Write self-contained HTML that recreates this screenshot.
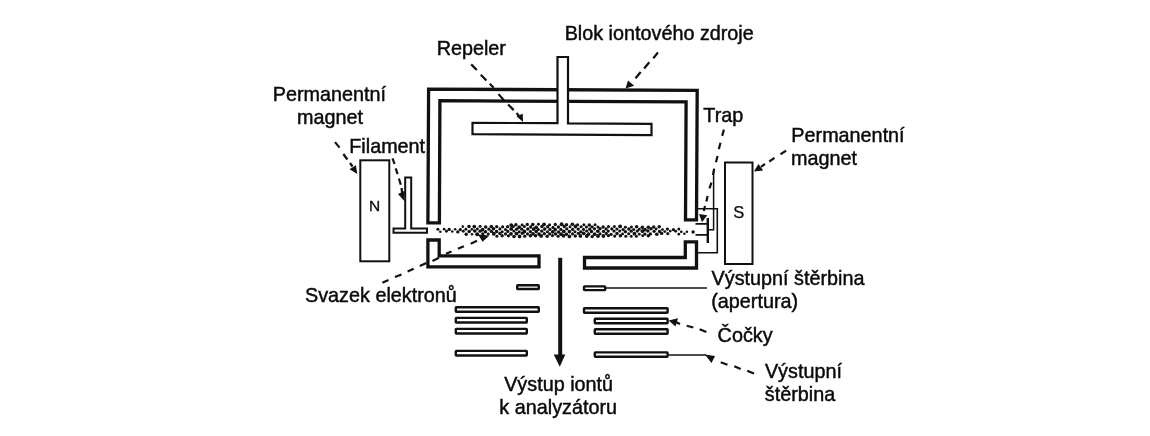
<!DOCTYPE html>
<html><head><meta charset="utf-8">
<style>
html,body{margin:0;padding:0;background:#fff;width:1150px;height:436px;overflow:hidden}
svg{position:absolute;left:0;top:0;will-change:transform}
text{font-family:"Liberation Sans",sans-serif;font-size:19.8px;fill:#0a0a0a;stroke:#0a0a0a;stroke-width:0.45px}
</style></head><body>
<svg width="1150" height="436" viewBox="0 0 1150 436">
<g fill="none" stroke="#111" stroke-linejoin="miter">
<!-- upper chamber -->
<path d="M427.9,222.8 L428.6,89.1 L697.2,90.4 L696.5,219.8 L685.5,219.8 L686.1,101.9 L439.9,100.7 L439.4,222.8 Z" stroke-width="3.3"/>
<!-- lower walls -->
<path d="M427.9,240 V266.9 H539 V255.9 H439.2 V240 Z" stroke-width="3.3"/>
<path d="M696.5,241.8 V268 H584.5 V257.5 H685.3 V241.8 Z" stroke-width="3.3"/>
<!-- repeler T -->
<path d="M472.5,122.8 L557.5,123.2 L557.5,57 L568,57 L568,123.3 L651.5,123.8 L651.5,135.2 L472.5,134.2 Z" fill="#fff" stroke-width="2.2"/>
<!-- magnets -->
<rect x="360.3" y="160.3" width="29" height="101" stroke-width="2"/>
<rect x="725" y="162.5" width="27.5" height="101.5" stroke-width="2"/>
<!-- filament -->
<path d="M405.2,177.5 H411.2 V228.5 H427 V232.8 H393.5 V228.5 H405.2 Z" stroke-width="2"/>
<!-- trap -->
<path d="M698,208.8 H717.3 V252.7 H698" stroke-width="1.6"/>
<path d="M713.6,170 V229.8 H707.5" stroke-width="1.5"/>
<path d="M707.8,218 V243" stroke-width="2.4"/>
<path d="M695.5,223.9 H707.5 M695.5,234.9 H707.5" stroke-width="1.8"/>
<!-- lens plates left -->
<rect x="517.2" y="285.2" width="21.6" height="3.8" rx="0.5" stroke-width="2.4"/>
<rect x="455.8" y="307.2" width="83.0" height="4.6" rx="0.5" stroke-width="2.4"/>
<rect x="455.8" y="317.9" width="71.0" height="4.6" rx="0.5" stroke-width="2.4"/>
<rect x="455.8" y="328.9" width="71.0" height="4.6" rx="0.5" stroke-width="2.4"/>
<rect x="455.8" y="350.9" width="71.0" height="4.6" rx="0.5" stroke-width="2.4"/>
<!-- lens plates right -->
<rect x="584.0" y="286.4" width="21.2" height="3.7" rx="0.5" stroke-width="2.4"/>
<rect x="584.0" y="308.3" width="83.6" height="4.5" rx="0.5" stroke-width="2.4"/>
<rect x="594.8" y="318.8" width="72.8" height="4.5" rx="0.5" stroke-width="2.4"/>
<rect x="594.8" y="329.3" width="72.8" height="4.5" rx="0.5" stroke-width="2.4"/>
<rect x="594.8" y="352.4" width="72.8" height="4.4" rx="0.5" stroke-width="2.4"/>
<!-- solid leaders -->
<path d="M606,288 H707" stroke-width="1.4"/>
<path d="M668.5,355 H706" stroke-width="1.7"/>
<!-- center arrow -->
<path d="M560.2,257.8 V356" stroke-width="4"/>
</g>
<path d="M553.7,354.6 L565.3,354.6 L559.8,366.8 Z" fill="#111"/>
<!-- electron beam -->
<g fill="#111">
<circle cx="437.9" cy="229.3" r="1.52"/><circle cx="440.3" cy="231.8" r="1.27"/><circle cx="444.1" cy="229.2" r="1.35"/><circle cx="446.5" cy="231.2" r="1.48"/><circle cx="449.2" cy="229.4" r="1.69"/><circle cx="452.3" cy="231.6" r="1.27"/><circle cx="455.2" cy="229.2" r="1.25"/><circle cx="457.8" cy="231.9" r="1.69"/><circle cx="460.3" cy="229.6" r="1.65"/><circle cx="462.8" cy="226.6" r="1.28"/><circle cx="463.3" cy="231.3" r="1.46"/><circle cx="465.9" cy="229.3" r="1.43"/><circle cx="466.2" cy="234.2" r="1.70"/><circle cx="469.0" cy="226.6" r="1.75"/><circle cx="469.2" cy="231.6" r="1.74"/><circle cx="471.9" cy="229.3" r="1.34"/><circle cx="472.0" cy="234.3" r="1.27"/><circle cx="474.3" cy="226.6" r="1.85"/><circle cx="474.8" cy="231.0" r="1.83"/><circle cx="477.4" cy="229.0" r="1.47"/><circle cx="477.2" cy="234.3" r="1.94"/><circle cx="480.1" cy="226.4" r="1.49"/><circle cx="480.1" cy="231.2" r="1.65"/><circle cx="482.6" cy="229.7" r="1.88"/><circle cx="482.8" cy="233.8" r="1.64"/><circle cx="485.7" cy="227.0" r="1.75"/><circle cx="485.5" cy="231.7" r="1.70"/><circle cx="488.9" cy="229.2" r="1.60"/><circle cx="488.3" cy="233.9" r="1.46"/><circle cx="491.3" cy="226.5" r="1.76"/><circle cx="491.4" cy="231.4" r="1.68"/><circle cx="493.5" cy="228.8" r="1.82"/><circle cx="493.8" cy="233.8" r="1.93"/><circle cx="496.7" cy="226.7" r="1.61"/><circle cx="496.6" cy="231.4" r="1.75"/><circle cx="496.9" cy="236.3" r="1.46"/><circle cx="499.9" cy="228.9" r="1.56"/><circle cx="499.8" cy="233.4" r="1.67"/><circle cx="502.7" cy="226.8" r="1.62"/><circle cx="502.2" cy="231.7" r="1.53"/><circle cx="502.1" cy="235.7" r="1.68"/><circle cx="505.5" cy="229.5" r="1.55"/><circle cx="505.5" cy="233.9" r="1.59"/><circle cx="507.6" cy="226.7" r="1.62"/><circle cx="507.8" cy="231.4" r="1.59"/><circle cx="508.4" cy="235.8" r="1.65"/><circle cx="511.2" cy="225.1" r="1.92"/><circle cx="511.2" cy="228.9" r="1.93"/><circle cx="511.0" cy="233.8" r="1.87"/><circle cx="513.3" cy="226.5" r="1.62"/><circle cx="513.9" cy="231.0" r="1.59"/><circle cx="514.0" cy="236.5" r="1.80"/><circle cx="515.9" cy="224.8" r="1.74"/><circle cx="516.6" cy="229.2" r="1.60"/><circle cx="516.5" cy="233.6" r="1.92"/><circle cx="519.2" cy="227.2" r="1.88"/><circle cx="519.2" cy="231.8" r="1.55"/><circle cx="519.6" cy="236.4" r="1.85"/><circle cx="522.1" cy="225.0" r="1.45"/><circle cx="521.8" cy="229.2" r="1.59"/><circle cx="522.3" cy="233.3" r="1.69"/><circle cx="524.4" cy="226.5" r="1.51"/><circle cx="524.4" cy="231.5" r="1.88"/><circle cx="524.7" cy="236.2" r="1.61"/><circle cx="527.3" cy="224.4" r="1.63"/><circle cx="527.8" cy="229.1" r="1.73"/><circle cx="527.5" cy="233.9" r="1.54"/><circle cx="530.7" cy="227.0" r="1.64"/><circle cx="530.4" cy="231.7" r="1.64"/><circle cx="530.4" cy="235.8" r="1.80"/><circle cx="532.8" cy="224.5" r="1.80"/><circle cx="533.6" cy="229.1" r="1.89"/><circle cx="533.0" cy="233.8" r="1.85"/><circle cx="536.2" cy="227.3" r="1.86"/><circle cx="536.2" cy="231.6" r="1.78"/><circle cx="535.5" cy="235.7" r="1.74"/><circle cx="538.4" cy="224.2" r="1.47"/><circle cx="538.3" cy="229.5" r="1.54"/><circle cx="539.0" cy="234.1" r="1.87"/><circle cx="541.9" cy="226.4" r="1.74"/><circle cx="541.8" cy="231.1" r="1.71"/><circle cx="541.2" cy="235.9" r="1.92"/><circle cx="544.1" cy="224.3" r="1.86"/><circle cx="544.7" cy="229.1" r="1.76"/><circle cx="544.3" cy="233.7" r="1.65"/><circle cx="547.7" cy="226.8" r="1.70"/><circle cx="547.4" cy="231.8" r="1.53"/><circle cx="547.2" cy="236.2" r="1.71"/><circle cx="549.6" cy="224.8" r="1.52"/><circle cx="549.9" cy="229.4" r="1.71"/><circle cx="549.7" cy="233.9" r="1.58"/><circle cx="553.0" cy="227.4" r="1.57"/><circle cx="552.7" cy="231.9" r="1.80"/><circle cx="552.5" cy="235.6" r="1.58"/><circle cx="555.3" cy="224.5" r="1.64"/><circle cx="555.2" cy="229.7" r="1.84"/><circle cx="555.6" cy="234.1" r="1.75"/><circle cx="558.4" cy="227.1" r="1.73"/><circle cx="558.6" cy="232.0" r="1.65"/><circle cx="558.1" cy="236.3" r="1.56"/><circle cx="561.6" cy="224.3" r="1.93"/><circle cx="560.9" cy="229.4" r="1.58"/><circle cx="561.0" cy="234.2" r="1.90"/><circle cx="564.2" cy="226.5" r="1.66"/><circle cx="563.8" cy="231.4" r="1.87"/><circle cx="563.5" cy="235.9" r="1.79"/><circle cx="566.5" cy="224.7" r="1.69"/><circle cx="566.8" cy="228.8" r="1.65"/><circle cx="566.4" cy="234.2" r="1.78"/><circle cx="570.0" cy="226.8" r="1.50"/><circle cx="569.4" cy="231.7" r="1.83"/><circle cx="569.4" cy="236.4" r="1.85"/><circle cx="572.4" cy="224.2" r="1.79"/><circle cx="572.6" cy="229.4" r="1.63"/><circle cx="572.5" cy="233.9" r="1.54"/><circle cx="575.4" cy="226.5" r="1.89"/><circle cx="575.0" cy="231.7" r="1.52"/><circle cx="575.3" cy="236.1" r="1.73"/><circle cx="577.6" cy="224.8" r="1.54"/><circle cx="578.2" cy="229.1" r="1.72"/><circle cx="578.4" cy="233.3" r="1.64"/><circle cx="581.1" cy="226.8" r="1.57"/><circle cx="580.8" cy="231.8" r="1.65"/><circle cx="580.4" cy="235.9" r="1.87"/><circle cx="583.9" cy="224.8" r="1.51"/><circle cx="583.5" cy="229.4" r="1.54"/><circle cx="583.7" cy="233.4" r="1.82"/><circle cx="586.4" cy="227.0" r="1.55"/><circle cx="586.7" cy="231.0" r="1.58"/><circle cx="586.8" cy="236.0" r="1.90"/><circle cx="589.3" cy="225.1" r="1.74"/><circle cx="589.6" cy="229.2" r="1.60"/><circle cx="588.7" cy="234.1" r="1.81"/><circle cx="592.0" cy="226.9" r="1.70"/><circle cx="591.5" cy="231.5" r="1.71"/><circle cx="592.1" cy="236.6" r="1.67"/><circle cx="595.1" cy="224.7" r="1.52"/><circle cx="594.5" cy="228.8" r="1.63"/><circle cx="594.6" cy="234.2" r="1.91"/><circle cx="598.0" cy="227.0" r="1.52"/><circle cx="597.8" cy="231.3" r="1.81"/><circle cx="598.0" cy="236.0" r="1.92"/><circle cx="600.0" cy="228.7" r="1.69"/><circle cx="600.1" cy="233.8" r="1.55"/><circle cx="603.1" cy="227.0" r="1.72"/><circle cx="603.5" cy="231.4" r="1.68"/><circle cx="603.4" cy="236.0" r="1.90"/><circle cx="606.1" cy="228.9" r="1.71"/><circle cx="606.3" cy="233.4" r="1.55"/><circle cx="608.5" cy="226.6" r="1.55"/><circle cx="608.3" cy="231.1" r="1.53"/><circle cx="608.4" cy="235.6" r="1.70"/><circle cx="611.8" cy="228.8" r="1.65"/><circle cx="611.1" cy="234.3" r="1.65"/><circle cx="614.4" cy="226.6" r="1.50"/><circle cx="614.0" cy="231.1" r="1.62"/><circle cx="614.7" cy="236.1" r="1.59"/><circle cx="616.9" cy="229.0" r="1.60"/><circle cx="617.0" cy="233.4" r="1.76"/><circle cx="620.1" cy="226.4" r="1.93"/><circle cx="619.7" cy="231.0" r="1.50"/><circle cx="620.4" cy="235.8" r="1.78"/><circle cx="623.1" cy="229.6" r="1.69"/><circle cx="622.6" cy="233.9" r="1.47"/><circle cx="625.4" cy="227.2" r="1.49"/><circle cx="625.4" cy="231.7" r="1.64"/><circle cx="625.8" cy="236.3" r="1.54"/><circle cx="628.8" cy="229.1" r="1.73"/><circle cx="628.7" cy="233.8" r="1.56"/><circle cx="631.4" cy="227.0" r="1.53"/><circle cx="631.2" cy="231.2" r="1.64"/><circle cx="631.2" cy="236.4" r="1.46"/><circle cx="633.7" cy="229.5" r="1.50"/><circle cx="634.4" cy="233.7" r="1.89"/><circle cx="636.6" cy="226.8" r="1.82"/><circle cx="637.3" cy="231.1" r="1.65"/><circle cx="636.4" cy="236.2" r="1.51"/><circle cx="639.3" cy="229.3" r="1.47"/><circle cx="639.3" cy="234.3" r="1.46"/><circle cx="642.3" cy="227.2" r="1.73"/><circle cx="642.4" cy="231.2" r="1.84"/><circle cx="642.7" cy="235.7" r="1.49"/><circle cx="644.9" cy="229.6" r="1.93"/><circle cx="644.9" cy="234.1" r="1.68"/><circle cx="648.3" cy="227.3" r="1.77"/><circle cx="647.9" cy="231.1" r="1.75"/><circle cx="648.3" cy="235.8" r="1.75"/><circle cx="651.0" cy="228.8" r="1.68"/><circle cx="650.4" cy="233.9" r="1.69"/><circle cx="653.7" cy="227.0" r="1.66"/><circle cx="654.1" cy="231.3" r="1.63"/><circle cx="656.1" cy="228.9" r="1.49"/><circle cx="656.8" cy="234.3" r="1.81"/><circle cx="659.2" cy="226.8" r="1.72"/><circle cx="659.6" cy="231.5" r="1.70"/><circle cx="662.5" cy="229.6" r="1.45"/><circle cx="661.7" cy="233.4" r="1.72"/><circle cx="664.8" cy="231.6" r="1.39"/><circle cx="667.4" cy="229.1" r="1.62"/><circle cx="667.8" cy="233.6" r="1.62"/><circle cx="670.3" cy="231.1" r="1.39"/><circle cx="673.4" cy="229.7" r="1.63"/><circle cx="675.7" cy="231.3" r="1.43"/><circle cx="678.8" cy="229.1" r="1.51"/><circle cx="678.8" cy="234.2" r="1.38"/><circle cx="681.3" cy="231.8" r="1.39"/><circle cx="684.4" cy="233.8" r="1.30"/><circle cx="686.9" cy="231.8" r="1.26"/><circle cx="693.1" cy="232.0" r="1.74"/>
</g>
<!-- dashed leaders -->
<g stroke="#111" stroke-width="2.2" stroke-linecap="butt" fill="none">
<path d="M657.9,52.5 L653.3,58.2 M649.3,62.2 L644.1,68.5 M640.7,72 L635.5,78.3 M471.2,64.4 L476.8,70 M480.8,74.8 L486.4,80.5 M489.7,83.7 L493.7,87.7 M498.5,94.1 L504.1,100.5 M508.1,104.5 L513.7,110.1 M516.5,113 L519,116 M335,142.1 L339.6,147.6 M343.3,154 L347.4,159.5 M350,163 L352.5,166.5 M392.6,158.3 L394.5,164 M395.7,168.4 L397.6,174.1 M398.9,178.5 L400.8,184.8 M401.5,188 L402.2,193 M723.9,129.6 L722.2,135.9 M720.5,142.8 L718.8,149.1 M717.6,156 L715.9,162.3 M714.2,168.6 L713,175 M711.4,182.6 L709.5,188.3 M707.6,195.9 L706.4,201.6 M705,206 L703.8,211 M786.2,150.6 L780.5,154.2 M774.5,157.9 L769.3,161.5 M765,164 L761,166.8 M382.4,282.7 L388.5,280.1 M395,277 L401.5,274.4 M407.6,271.4 L413.7,268.7 M419.8,266.1 L426.4,263.1 M432.5,260.9 L439,257.8 M446,253.8 L451.5,251.5 M457.9,248.8 L463.9,246.3 M470.7,243.7 L477,240.7 M699.6,329.2 L706.4,332.1 M686.7,325.8 L693.3,327.5 M676.3,322.3 L680,324 M720.7,362.3 L727.5,364.7 M734.3,366.3 L740.7,369.1 M747.2,370.7 L754,373.5"/>
</g>
<g fill="#111">
<path d="M625.5,88.6 L628,80.6 L634.2,85.8 Z"/>
<path d="M523,122 L516.5,116.3 L522.8,113.8 Z"/>
<path d="M357.3,174 L349.5,169.3 L355.9,165.2 Z"/>
<path d="M404,200.8 L398,194 L404.8,190.8 Z"/>
<path d="M702,222.2 L699,214 L707.3,215.3 Z"/>
<path d="M754,171.6 L758.4,164 L763.2,170.5 Z"/>
<path d="M482.5,241.8 L478,234.5 L489.5,235.4 Z"/>
<path d="M668.7,320.6 L678,318.3 L675.5,326.6 Z"/>
<path d="M704.8,354.5 L715,356 L711.5,363 Z"/>
</g>
<!-- labels -->
<text x="659.2" y="40.3" text-anchor="middle">Blok iontového zdroje</text>
<text x="471.3" y="54.9" text-anchor="middle">Repeler</text>
<text x="329.4" y="100.9" text-anchor="middle">Permanentní</text>
<text x="330.1" y="123.6" text-anchor="middle">magnet</text>
<text x="387.2" y="152.5" text-anchor="middle">Filament</text>
<text x="723.3" y="121.6" text-anchor="middle">Trap</text>
<text x="848.0" y="141.9" text-anchor="middle">Permanentní</text>
<text x="823.9" y="164.6" text-anchor="middle">magnet</text>
<text x="380.9" y="302.3" text-anchor="middle">Svazek elektronů</text>
<text x="788.0" y="285.1" text-anchor="middle">Výstupní štěrbina</text>
<text x="754.7" y="308" text-anchor="middle">(apertura)</text>
<text x="745.1" y="341.5" text-anchor="middle">Čočky</text>
<text x="803.4" y="377.7" text-anchor="middle">Výstupní</text>
<text x="800.0" y="400.5" text-anchor="middle">štěrbina</text>
<text x="558.6" y="391.1" text-anchor="middle">Výstup iontů</text>
<text x="558.2" y="413.7" text-anchor="middle">k analyzátoru</text>
<text x="374.5" y="210.8" text-anchor="middle" style="font-size:15.5px;stroke-width:0.3px">N</text>
<text x="738.8" y="218.1" text-anchor="middle" style="font-size:16.5px;stroke-width:0.25px">S</text>
</svg>
</body></html>
